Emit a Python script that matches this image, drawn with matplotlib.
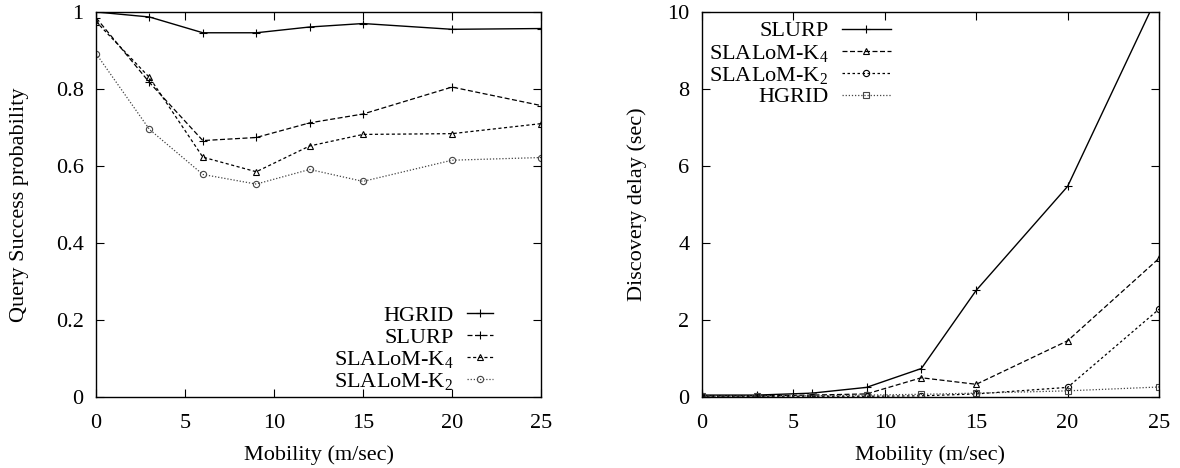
import matplotlib
matplotlib.use("Agg")
import matplotlib.pyplot as plt

plt.rcParams['font.family'] = ['Liberation Serif', 'DejaVu Serif']
plt.rcParams['mathtext.fontset'] = 'custom'
plt.rcParams['mathtext.rm'] = 'Liberation Serif'
plt.rcParams['mathtext.it'] = 'Liberation Serif'

# mobility values (m/sec)
mobility = [0, 3, 6, 9, 12, 15, 20, 25]

# left: query success probability
qs_hgrid = [1.0, 0.987, 0.946, 0.946, 0.961, 0.970, 0.955, 0.957]
qs_slurp = [0.985, 0.817, 0.666, 0.674, 0.712, 0.735, 0.805, 0.757]
qs_k4 = [0.975, 0.830, 0.623, 0.585, 0.652, 0.682, 0.684, 0.710]
qs_k2 = [0.892, 0.695, 0.578, 0.553, 0.591, 0.560, 0.615, 0.622]

# right: discovery delay (sec)
dd_slurp = [0.05, 0.05, 0.10, 0.25, 0.74, 2.77, 5.47, 10.5]
dd_k4 = [0.03, 0.03, 0.05, 0.08, 0.50, 0.33, 1.46, 3.60]
dd_k2 = [0.02, 0.02, 0.02, 0.02, 0.03, 0.08, 0.25, 2.28]
dd_hgrid = [0.02, 0.03, 0.03, 0.05, 0.07, 0.10, 0.16, 0.26]

FS = 16

fig = plt.figure(figsize=(11.8, 4.68), dpi=100)
ax1 = fig.add_axes([0.0814, 0.1517, 0.3771, 0.8227])
ax2 = fig.add_axes([0.5949, 0.1517, 0.3873, 0.8227])

mk = dict(markersize=6, markerfacecolor='none', markeredgewidth=0.8)
mk2 = dict(markersize=4.5, markerfacecolor='none', markeredgewidth=0.8)

ax1.plot(mobility, qs_hgrid, '-', color='black', lw=1.0, marker='+', label='HGRID', **mk)
ax1.plot(mobility, qs_slurp, color='black', lw=0.9, ls=(0, (4, 2)), marker='+', label='SLURP', **mk)
ax1.plot(mobility, qs_k4, color='black', lw=0.9, ls=(0, (2.5, 2)), marker='^', label=r'SLALoM-K$_\mathrm{4}$', **mk2)
ax1.plot(mobility, qs_k2, color='#444444', lw=0.9, ls=(0, (1, 1.5)), marker='o', label=r'SLALoM-K$_\mathrm{2}$', **mk2)

ax2.plot(mobility, dd_slurp, '-', color='black', lw=1.0, marker='+', label='SLURP', **mk)
ax2.plot(mobility, dd_k4, color='black', lw=0.9, ls=(0, (4, 2)), marker='^', label=r'SLALoM-K$_\mathrm{4}$', **mk2)
ax2.plot(mobility, dd_k2, color='black', lw=0.9, ls=(0, (2, 2)), marker='o', label=r'SLALoM-K$_\mathrm{2}$', **mk2)
ax2.plot(mobility, dd_hgrid, color='#444444', lw=0.9, ls=(0, (1, 1.5)), marker='s', label='HGRID', **mk2)

ax1.set_xlim(0, 25)
ax1.set_ylim(0, 1)
ax1.set_yticks([0, 0.2, 0.4, 0.6, 0.8, 1])
ax1.set_yticklabels(['0', '0.2', '0.4', '0.6', '0.8', '1'])
ax2.set_xlim(0, 25)
ax2.set_ylim(0, 10)
ax2.set_yticks([0, 2, 4, 6, 8, 10])

for ax in (ax1, ax2):
    ax.set_xticks([0, 5, 10, 15, 20, 25])
    ax.tick_params(direction='in', top=True, right=True, length=6, width=0.8,
                   labelsize=FS)
    ax.tick_params(axis='x', pad=12.5)
    ax.tick_params(axis='y', pad=9)
    for s in ax.spines.values():
        s.set_linewidth(1.0)
    ax.set_xlabel('Mobility (m/sec)', fontsize=FS)
    ax.xaxis.set_label_coords(0.5, -0.125)

ax1.set_ylabel('Query Success probability', fontsize=FS)
ax1.yaxis.set_label_coords(-0.150, 0.5)
ax2.set_ylabel('Discovery delay (sec)', fontsize=FS)
ax2.yaxis.set_label_coords(-0.120, 0.5)

ax1.legend(loc='lower right', bbox_to_anchor=(0.913, -0.01), frameon=False,
           markerfirst=False, fontsize=FS, handlelength=1.2, labelspacing=0.05,
           handletextpad=0.6, borderaxespad=0.0)
ax2.legend(loc='upper right', bbox_to_anchor=(0.432, 1.0), frameon=False,
           markerfirst=False, fontsize=FS, handlelength=2.2, labelspacing=0.05,
           handletextpad=0.6, borderaxespad=0.0)

fig.savefig('out.png', dpi=100)
